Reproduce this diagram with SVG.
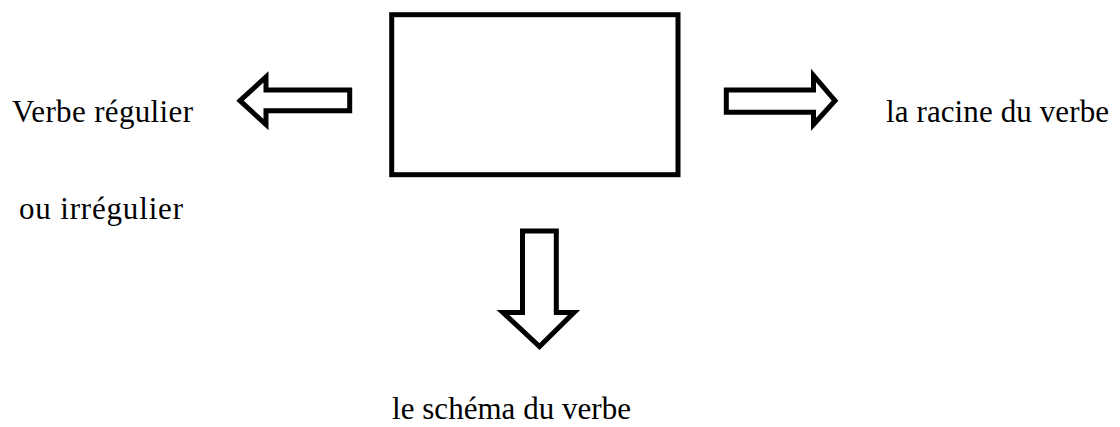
<svg xmlns="http://www.w3.org/2000/svg" width="1120" height="427" viewBox="0 0 1120 427">
<style>
.box{fill:#fff;stroke:#000;stroke-width:5}
.arrow{fill:#fff;stroke:#000;stroke-width:5;stroke-linejoin:miter;stroke-miterlimit:10}
.lbl{font-family:"Liberation Serif","Times New Roman",serif;font-size:31px;fill:#000}
</style>
<rect width="1120" height="427" fill="#fff"/>
<g id="center-box">
<rect class="box" x="391.7" y="14.7" width="286.3" height="160"/>
</g>
<g id="connectors">
<polygon id="arrow-left" class="arrow" points="240,100.7 266,77 266,90 349.7,90 349.7,110.8 266,110.8 266,124.5"/>
<polygon id="arrow-right" class="arrow" points="726.3,90 813.5,90 813.5,75.5 835,100.7 813.5,124.5 813.5,112.2 726.3,112.2"/>
<polygon id="arrow-down" class="arrow" points="522.5,231 556.3,231 556.3,312.5 574,312.5 539.5,346.5 503,312.5 522.5,312.5"/>
</g>
<g id="label-left">
<text class="lbl" x="12" y="122" textLength="181" lengthAdjust="spacing">Verbe régulier</text>
<text class="lbl" x="19" y="219" textLength="164" lengthAdjust="spacing">ou irrégulier</text>
</g>
<g id="label-right">
<text class="lbl" x="886" y="122" textLength="223" lengthAdjust="spacing">la racine du verbe</text>
</g>
<g id="label-bottom">
<text class="lbl" x="392" y="419" textLength="239" lengthAdjust="spacing">le schéma du verbe</text>
</g>
</svg>
